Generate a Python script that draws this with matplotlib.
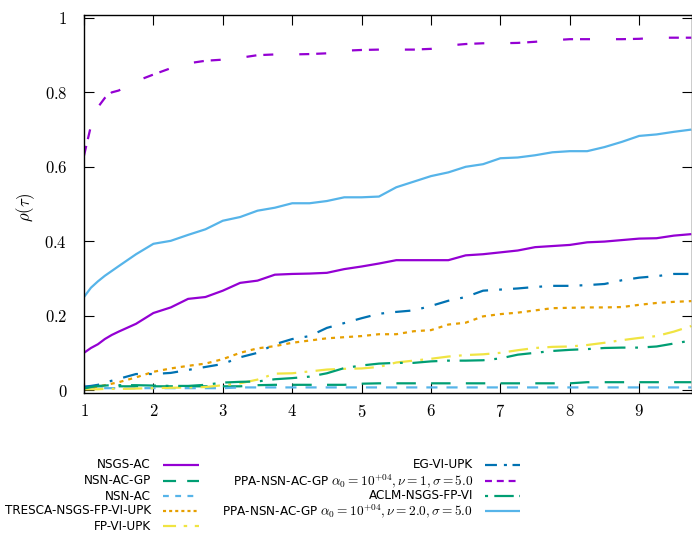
import matplotlib
matplotlib.use("Agg")
import matplotlib.pyplot as plt
from matplotlib.lines import Line2D
from matplotlib import font_manager

plt.rcParams['mathtext.fontset'] = 'cm'
plt.rcParams['lines.scale_dashes'] = False
plt.rcParams['font.family'] = ['Liberation Sans', 'DejaVu Sans']

# performance profile abscissa
tau = [1.0, 1.1, 1.2, 1.3, 1.4, 1.5, 1.75, 2.0, 2.25, 2.5, 2.75, 3.0, 3.25, 3.5, 3.75,
       4.0, 4.25, 4.5, 4.75, 5.0, 5.25, 5.5, 5.75, 6.0, 6.25, 6.5, 6.75, 7.0, 7.25,
       7.5, 7.75, 8.0, 8.25, 8.5, 8.75, 9.0, 9.25, 9.5, 9.75]

nsgs_ac = [0.10, 0.113, 0.123, 0.137, 0.148, 0.157, 0.178, 0.207, 0.222, 0.245, 0.25,
           0.267, 0.288, 0.294, 0.31, 0.312, 0.313, 0.315, 0.325, 0.332, 0.34, 0.349,
           0.349, 0.349, 0.349, 0.362, 0.365, 0.37, 0.375, 0.384, 0.387, 0.39, 0.397,
           0.399, 0.403, 0.407, 0.408, 0.415, 0.419]
nsn_ac_gp = [0.008, 0.009, 0.01, 0.01, 0.01, 0.01, 0.01, 0.01, 0.01, 0.01, 0.01, 0.01,
             0.01, 0.013, 0.014, 0.014, 0.014, 0.014, 0.014, 0.017, 0.018, 0.018, 0.018,
             0.018, 0.018, 0.018, 0.018, 0.018, 0.018, 0.018, 0.018, 0.018, 0.021, 0.021,
             0.021, 0.021, 0.021, 0.021, 0.021]
nsn_ac = [0.005, 0.005, 0.005, 0.005, 0.005, 0.005, 0.005, 0.005, 0.005, 0.005, 0.005,
          0.005, 0.007, 0.007, 0.007, 0.007, 0.007, 0.007, 0.007, 0.007, 0.007, 0.007,
          0.007, 0.007, 0.007, 0.007, 0.007, 0.007, 0.007, 0.007, 0.007, 0.007, 0.007,
          0.007, 0.007, 0.007, 0.007, 0.007, 0.007]
tresca = [0.005, 0.007, 0.009, 0.013, 0.017, 0.021, 0.034, 0.049, 0.058, 0.065, 0.071,
          0.083, 0.10, 0.112, 0.118, 0.127, 0.133, 0.139, 0.142, 0.145, 0.15, 0.15,
          0.158, 0.161, 0.176, 0.181, 0.198, 0.204, 0.208, 0.214, 0.22, 0.221, 0.222,
          0.222, 0.223, 0.229, 0.234, 0.237, 0.239]
fp_vi_upk = [0.002, 0.002, 0.002, 0.003, 0.003, 0.003, 0.004, 0.005, 0.006, 0.007, 0.008,
             0.013, 0.018, 0.028, 0.044, 0.045, 0.05, 0.055, 0.057, 0.058, 0.062, 0.074,
             0.079, 0.084, 0.09, 0.094, 0.096, 0.10, 0.107, 0.113, 0.116, 0.117, 0.121,
             0.127, 0.134, 0.14, 0.145, 0.157, 0.172]
eg_vi_upk = [0.009, 0.011, 0.014, 0.02, 0.025, 0.03, 0.043, 0.043, 0.046, 0.054, 0.062,
             0.07, 0.088, 0.10, 0.123, 0.137, 0.145, 0.167, 0.18, 0.193, 0.205, 0.21,
             0.214, 0.226, 0.24, 0.25, 0.267, 0.27, 0.273, 0.277, 0.28, 0.28, 0.282,
             0.285, 0.295, 0.302, 0.306, 0.312, 0.312]
ppa_nu1 = [0.63, 0.71, 0.76, 0.785, 0.80, 0.805, 0.83, 0.848, 0.865, 0.878, 0.885, 0.888,
           0.893, 0.90, 0.902, 0.902, 0.903, 0.905, 0.912, 0.914, 0.915, 0.915, 0.915,
           0.917, 0.926, 0.93, 0.932, 0.932, 0.933, 0.936, 0.94, 0.943, 0.943, 0.943,
           0.943, 0.944, 0.947, 0.947, 0.947]
aclm = [0.004, 0.008, 0.011, 0.012, 0.013, 0.013, 0.013, 0.012, 0.011, 0.011, 0.014,
        0.02, 0.022, 0.023, 0.029, 0.032, 0.036, 0.045, 0.059, 0.066, 0.071, 0.073,
        0.073, 0.077, 0.079, 0.079, 0.08, 0.085, 0.095, 0.10, 0.105, 0.108, 0.11,
        0.113, 0.114, 0.114, 0.117, 0.125, 0.133]
ppa_nu2 = [0.25, 0.275, 0.292, 0.307, 0.32, 0.333, 0.365, 0.393, 0.401, 0.417, 0.432,
           0.455, 0.465, 0.482, 0.49, 0.502, 0.502, 0.508, 0.518, 0.518, 0.52, 0.545,
           0.56, 0.575, 0.585, 0.60, 0.607, 0.623, 0.625, 0.631, 0.639, 0.642, 0.642,
           0.653, 0.667, 0.683, 0.687, 0.694, 0.70]

labels = ['NSGS-AC', 'NSN-AC-GP', 'NSN-AC', 'TRESCA-NSGS-FP-VI-UPK', 'FP-VI-UPK',
          'EG-VI-UPK',
          r'PPA-NSN-AC-GP $\alpha_0 = 10^{+04}, \nu = 1, \sigma = 5.0$',
          'ACLM-NSGS-FP-VI',
          r'PPA-NSN-AC-GP $\alpha_0 = 10^{+04}, \nu = 2.0, \sigma = 5.0$']
series = [nsgs_ac, nsn_ac_gp, nsn_ac, tresca, fp_vi_upk, eg_vi_upk, ppa_nu1, aclm, ppa_nu2]
colors = ['#9400D3', '#009E73', '#56B4E9', '#E69F00', '#F0E442', '#0072B2',
          '#9400D3', '#009E73', '#56B4E9']
# dash patterns (points) for the curves and for the key samples
dashes = [None, (14, 11), (8, 6.5), (2.9, 3.6), (14, 6, 2, 6), (11, 8, 2, 8),
          (7.2, 5, 7.2, 18.7), (18, 7, 2, 7), None]
key_dashes = [None, (9.4, 8), (4.2, 4.6), (2.2, 2.2), (9.4, 5.5, 2.5, 5.5), (8.6, 5, 2.2, 4),
              (5, 3.5), (2.2, 4.5, 14, 4), None]


def pick_key_font():
    # a narrow sans looks closest to the key font of the original
    for f in font_manager.fontManager.ttflist:
        name = f.name.lower()
        if ('narrow' in name or 'condensed' in name or f.stretch in ('condensed', 'semi-condensed')) \
                and 'sans' in name and f.style == 'normal' and f.weight in (400, 'normal', 'regular'):
            return font_manager.FontProperties(fname=f.fname)
    return font_manager.FontProperties(family='Liberation Sans')


fig = plt.figure(figsize=(6.92, 5.35), dpi=100)
W, H = 692.0, 535.0
ax = fig.add_axes([84 / W, 1 - 393 / H, (692 - 84) / W, (393 - 15) / H])

for y, c, d in zip(series, colors, dashes):
    ln, = ax.plot(tau, y, color=c, lw=1.6, solid_capstyle='butt')
    if d is not None:
        ln.set_dashes(d)
        ln.set_dash_capstyle('butt')

ax.set_xlim(1, 1 + (692 - 84) / 69.4)
ax.set_ylim(-0.008, 1.008)
ax.set_xticks(range(1, 10))
ax.set_xticklabels(['$%d$' % i for i in range(1, 10)], fontsize=12)
yt = [0, 0.2, 0.4, 0.6, 0.8, 1]
ax.set_yticks(yt)
ax.set_yticklabels(['$0$', '$0.2$', '$0.4$', '$0.6$', '$0.8$', '$1$'], fontsize=12)
ax.tick_params(direction='in', length=7.5, width=0.8, top=True, right=True)
ax.tick_params(axis='x', pad=7)
ax.tick_params(axis='y', pad=12)
for s in ax.spines.values():
    s.set_linewidth(1.0)
ax.set_ylabel(r'$\rho(\tau)$', fontsize=12)
ax.yaxis.set_label_coords(-0.078, 0.49)

# gnuplot style key: right aligned text, sample after it
key_font = pick_key_font()
probe = fig.text(0, 0, labels[3], fontproperties=key_font, fontsize=10.5)
renderer = fig.canvas.get_renderer()
wpx = probe.get_window_extent(renderer).width
probe.remove()
key_size = min(10.5, 10.5 * 147.0 / wpx)

col1 = dict(tx=151, x0=163, x1=199, rows=[465, 480.5, 496, 511, 526])
col2 = dict(tx=473, x0=485, x1=520, rows=[465, 481, 495.5, 511])
entries = [(col1, i) for i in range(5)] + [(col2, i) for i in range(4)]
for k, (col, r) in enumerate(entries):
    yy = 1 - col['rows'][r] / H
    fig.text(col['tx'] / W, yy, labels[k], ha='right', va='center',
             fontproperties=key_font, fontsize=key_size)
    ln = Line2D([col['x0'] / W, col['x1'] / W], [yy, yy], transform=fig.transFigure,
                color=colors[k], lw=1.6, solid_capstyle='butt')
    if key_dashes[k] is not None:
        ln.set_dashes(key_dashes[k])
        ln.set_dash_capstyle('butt')
    fig.add_artist(ln)

fig.savefig('out.png', dpi=100)
